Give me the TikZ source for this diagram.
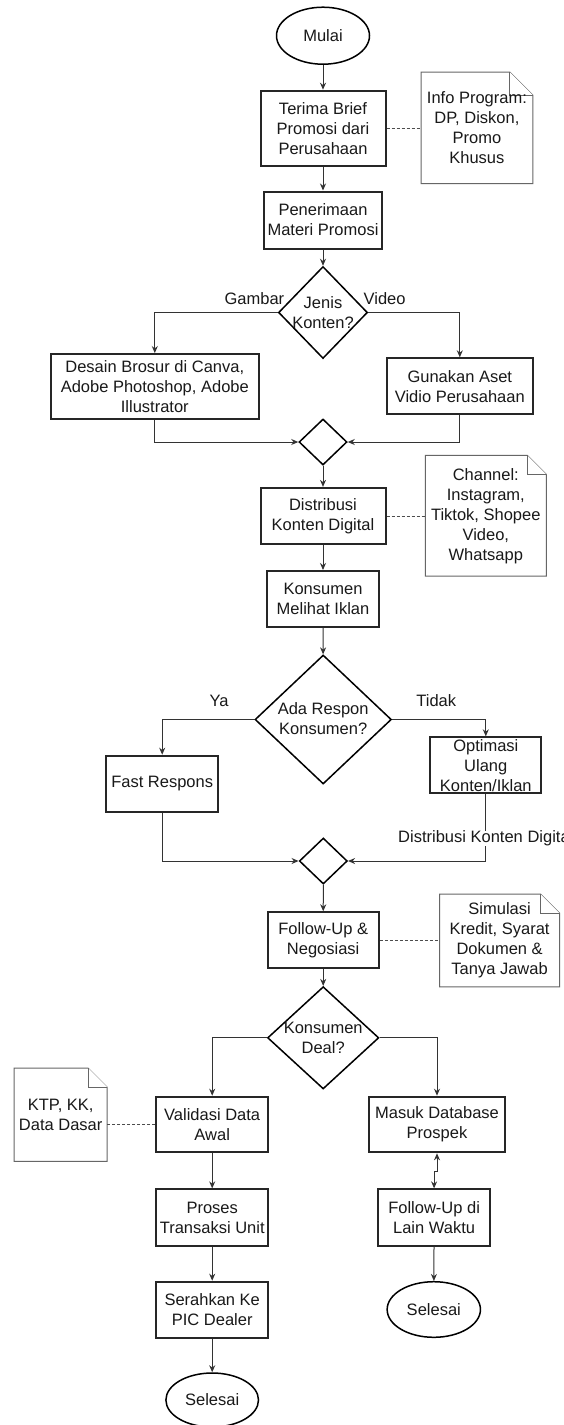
\documentclass[tikz,border=0pt]{standalone}
\usepackage{fontspec}
\setmainfont{Liberation Sans}
\usetikzlibrary{shapes.geometric,arrows.meta,calc}
\newcommand\dogear[2]{%
  \filldraw[notestyle] (#1.north west) -- ([xshift=-#2pt]#1.north east) -- ([yshift=-#2pt]#1.north east) -- (#1.south east) -- (#1.south west) -- cycle;
  \draw[notestyle] ([xshift=-#2pt]#1.north east) -- ([xshift=-#2pt,yshift=-#2pt]#1.north east) -- ([yshift=-#2pt]#1.north east);
}
\begin{document}
\begin{tikzpicture}[x=1pt,y=-1pt,
  every node/.style={font=\fontsize{16.5}{20}\selectfont, text=black!90, align=center, inner sep=0pt},
  box/.style={draw=black!85, line width=2pt, rectangle, fill=white},
  dia/.style={draw=black, line width=1.5pt, diamond, fill=white, inner sep=0pt},
  oval/.style={draw=black, line width=1.5pt, ellipse, fill=white},
  notebox/.style={rectangle, draw=none},
  notestyle/.style={draw=black!60, fill=white, line width=1pt},
  flow/.style={draw=black!80, line width=1pt, -{Stealth[length=7pt,width=6pt]}},
  bi/.style={draw=black!80, line width=1pt, {Stealth[length=7pt,width=6pt]}-{Stealth[length=7pt,width=6pt]}},
  link/.style={draw=black!70, line width=1pt, dash pattern=on 3pt off 2pt},
  lbl/.style={fill=white}
]
\useasboundingbox (0,0) rectangle (563,1425);
\fill[white] (0,0) rectangle (563,1425);
\clip (0,0) rectangle (563,1425);

% ---- nodes ----
\node[oval, minimum width=93pt, minimum height=57pt] (mulai) at (323,35.7) {Mulai};
\node[box, minimum width=125pt, minimum height=75pt] (terima) at (323,128.2) {Terima Brief\\Promosi dari\\Perusahaan};
\node[notebox, minimum width=111.3pt, minimum height=111pt] (info) at (476.9,127.8) {};
\node[box, minimum width=118pt, minimum height=57pt] (terimamat) at (323,220) {Penerimaan\\Materi Promosi};
\node[dia, minimum width=89pt, minimum height=92pt] (jenis) at (323,312.5) {};
\node[box, minimum width=207.5pt, minimum height=65.3pt] (desain) at (154.8,386.7) {Desain Brosur di Canva,\\Adobe Photoshop, Adobe\\Illustrator};
\node[box, minimum width=145.5pt, minimum height=56pt] (gunakan) at (459.8,386.3) {Gunakan Aset\\Vidio Perusahaan};
\node[dia, minimum width=48pt, minimum height=46pt] (merge1) at (323,442) {};
\node[box, minimum width=125pt, minimum height=56.3pt] (distribusi) at (323,516) {Distribusi\\Konten Digital};
\node[notebox, minimum width=120.6pt, minimum height=120.3pt] (channel) at (485.8,515.8) {};
\node[box, minimum width=112pt, minimum height=56pt] (melihat) at (323,599) {Konsumen\\Melihat Iklan};
\node[dia, minimum width=136.4pt, minimum height=129pt] (respon) at (323.2,719.5) {};
\node[box, minimum width=112.3pt, minimum height=56pt] (fast) at (162.2,783.7) {Fast Respons};
\node[box, minimum width=111.3pt, minimum height=56pt] (optimasi) at (485.8,765.3) {};
\node[dia, minimum width=48pt, minimum height=46pt] (merge2) at (323.3,861) {};
\node[box, minimum width=111.3pt, minimum height=56pt] (nego) at (323.2,940.3) {Follow-Up \&\\Negosiasi};
\node[notebox, minimum width=119.5pt, minimum height=92.4pt] (simulasi) at (499.6,940.5) {};
\node[dia, minimum width=111.3pt, minimum height=102.3pt] (deal) at (323.2,1037.8) {};
\node[box, minimum width=112pt, minimum height=55.6pt] (validasi) at (212.2,1124.5) {Validasi Data\\Awal};
\node[notebox, minimum width=92.6pt, minimum height=92.7pt] (ktp) at (60.7,1114.7) {};
\node[box, minimum width=135.7pt, minimum height=55.6pt] (masuk) at (437,1124.5) {Masuk Database\\Prospek};
\node[box, minimum width=112pt, minimum height=56.3pt] (proses) at (212.2,1217.5) {Proses\\Transaksi Unit};
\node[box, minimum width=112pt, minimum height=56.3pt] (lain) at (434.1,1217.5) {Follow-Up di\\Lain Waktu};
\node[box, minimum width=112pt, minimum height=56pt] (serahkan) at (212.2,1309.7) {Serahkan Ke\\PIC Dealer};
\node[oval, minimum width=92.6pt, minimum height=54pt] (selesai1) at (212.2,1400) {Selesai};
\node[oval, minimum width=93.3pt, minimum height=55.6pt] (selesai2) at (433.8,1309.5) {Selesai};

% ---- notes ----
\dogear{info}{23}
\dogear{channel}{19}
\dogear{simulasi}{19}
\dogear{ktp}{19}
\node (infot) at (info.center) {Info Program:\\DP, Diskon,\\Promo\\Khusus};
\node (channelt) at (channel.center) {Channel:\\Instagram,\\Tiktok, Shopee\\Video,\\Whatsapp};
\node (simulasit) at (simulasi.center) {Simulasi\\Kredit, Syarat\\Dokumen \&\\Tanya Jawab};
\node (ktpt) at (ktp.center) {KTP, KK,\\Data Dasar};

% ---- texts in diamonds / overflowing box ----
\node (jenist) at (jenis.center) {Jenis\\Konten?};
\node (respont) at ([yshift=1pt]respon.center) {Ada Respon\\Konsumen?};
\node (dealt) at (deal.center) {Konsumen\\Deal?};
\node (optimasit) at (optimasi.center) {Optimasi\\Ulang\\Konten/Iklan};

% ---- connectors ----
\draw[flow] (mulai) -- (terima);
\draw[flow] (terima) -- (terimamat);
\draw[flow] (terimamat) -- (jenis);
\draw[flow] (jenis.west) -| (desain.north);
\draw[flow] (jenis.east) -| (gunakan.north);
\draw[flow] (desain.south) |- (merge1.west);
\draw[flow] (gunakan.south) |- (merge1.east);
\draw[flow] (merge1) -- (distribusi);
\draw[flow] (distribusi) -- (melihat);
\draw[flow] (melihat) -- (respon);
\draw[flow] (respon.west) -| (fast.north);
\draw[flow] (respon.east) -| (optimasi.north);
\draw[flow] (fast.south) |- (merge2.west);
\draw[flow] (optimasi.south) |- (merge2.east);
\draw[flow] (merge2) -- (nego);
\draw[flow] (nego) -- (deal);
\draw[flow] (deal.west) -| (validasi.north);
\draw[flow] (deal.east) -| (masuk.north);
\draw[flow] (validasi) -- (proses);
\draw[flow] (proses) -- (serahkan);
\draw[flow] (serahkan) -- (selesai1);
\draw[bi] (masuk.south) -- ++(0,17.7) -| (lain.north);
\draw[flow] (lain) -- (selesai2);

% dashed annotations
\draw[link] (terima.east) -- (terima.east -| info.west);
\draw[link] (distribusi.east) -- (distribusi.east -| channel.west);
\draw[link] (nego.east) -- (nego.east -| simulasi.west);
\draw[link] (validasi.west) -- (validasi.west -| ktp.east);

% edge labels
\node (gambar) at (254.4,298.3) {Gambar};
\node (video) at (384.6,298.3) {Video};
\node (ya) at (219,701) {Ya};
\node (tidak) at (436.3,701) {Tidak};
\node[lbl] (distlbl) at (485.8,838.3) {Distribusi Konten Digital};
\end{tikzpicture}
\end{document}
